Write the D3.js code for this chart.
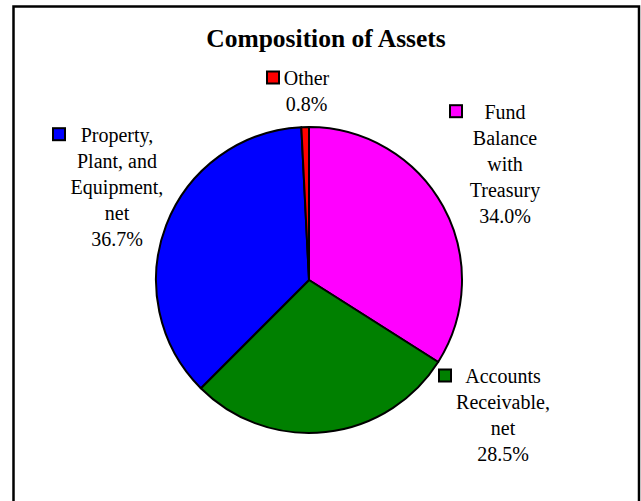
<!DOCTYPE html>
<html>
<head>
<meta charset="utf-8">
<script src="https://cdn.jsdelivr.net/npm/d3@7"></script>
<style>
html,body{margin:0;padding:0;background:#fff;}
svg{display:block;}
</style>
</head>
<body>
<script>
const categories = ["Fund Balance with Treasury", "Accounts Receivable, net", "Property, Plant, and Equipment, net", "Other"];
const values = [34.0, 28.5, 36.7, 0.8];
const valueLabels = ["34.0%", "28.5%", "36.7%", "0.8%"];
const labelLines = [
  ["Fund", "Balance", "with", "Treasury"],
  ["Accounts", "Receivable,", "net"],
  ["Property,", "Plant, and", "Equipment,", "net"],
  ["Other"]
];
const colors = ["#FF00FF", "#008000", "#0000FF", "#FF0000"];
const title = "Composition of Assets";

const W = 641, H = 501;
const svg = d3.select("body").append("svg").attr("width", W).attr("height", H);

svg.append("rect").attr("x", 13.5).attr("y", 6.5).attr("width", 625.5).attr("height", 600)
  .attr("fill", "#fff").attr("stroke", "#000").attr("stroke-width", 2.5);

svg.append("text").attr("x", 326).attr("y", 47).attr("text-anchor", "middle")
  .attr("font-family", "Liberation Serif, Times New Roman, serif").attr("font-weight", "bold")
  .attr("font-size", 25.5).text(title);

const cx = 309, cy = 280, r = 153;
const pie = d3.pie().sort(null).value(d => d)(values);
const arc = d3.arc().innerRadius(0).outerRadius(r);
const g = svg.append("g").attr("transform", `translate(${cx},${cy})`);
g.selectAll("path").data(pie).enter().append("path")
  .attr("d", arc).attr("fill", (d, i) => colors[i])
  .attr("stroke", "#000").attr("stroke-width", 2).attr("stroke-linejoin", "round");

// label anchors: center x of text block, baseline of first line, marker left x
const labelPos = [
  {x: 505, y: 118.7, mx: 450},
  {x: 503, y: 383, mx: 439},
  {x: 117, y: 141.7, mx: 53},
  {x: 306.5, y: 85, mx: 267}
];
const lh = 26;
const fs = 20;
labelLines.forEach((lines, i) => {
  const p = labelPos[i];
  const all = lines.concat([valueLabels[i]]);
  const t = svg.append("text").attr("font-family", "Liberation Serif, Times New Roman, serif")
    .attr("font-size", fs).attr("text-anchor", "middle").attr("fill", "#000");
  all.forEach((s, k) => {
    t.append("tspan").attr("x", p.x).attr("y", p.y + k * lh).text(s);
  });
  svg.append("rect").attr("x", p.mx).attr("y", p.y - 13.5).attr("width", 12).attr("height", 12)
    .attr("fill", colors[i]).attr("stroke", "#000").attr("stroke-width", 2);
});
</script>
</body>
</html>
